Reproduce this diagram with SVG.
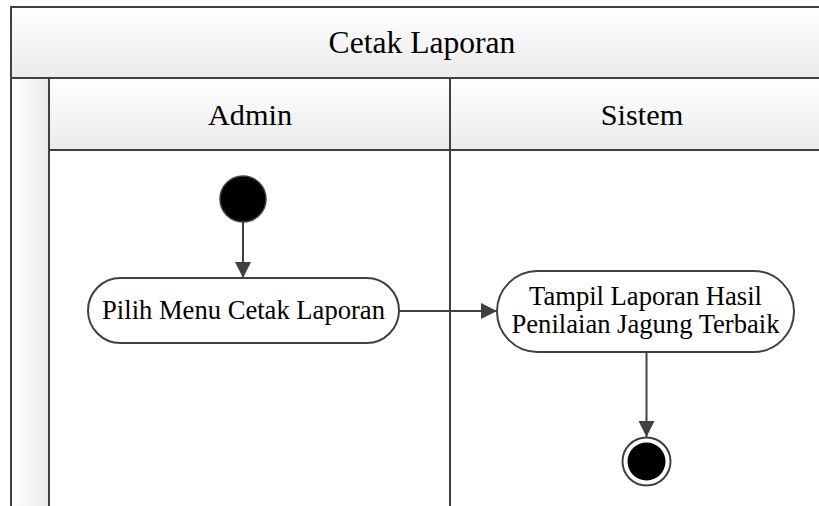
<svg xmlns="http://www.w3.org/2000/svg" width="819" height="506" viewBox="0 0 819 506">
  <defs>
    <linearGradient id="hdrFill" x1="0" y1="0" x2="0" y2="1">
      <stop offset="0" stop-color="#ffffff"/>
      <stop offset="1" stop-color="#ebebeb"/>
    </linearGradient>
    <linearGradient id="stripFill" x1="0" y1="0" x2="1" y2="0">
      <stop offset="0" stop-color="#ffffff"/>
      <stop offset="1" stop-color="#ebebeb"/>
    </linearGradient>
    <marker id="arrow" viewBox="0 0 16 16" refX="16" refY="8" markerWidth="16" markerHeight="16" markerUnits="userSpaceOnUse" orient="auto">
      <path d="M0,0 L16,8 L0,16 Z" fill="#404040"/>
    </marker>
    <style>
      .frame { stroke: #404040; stroke-width: 2; }
      text { font-family: 'Liberation Serif', 'DejaVu Serif', serif; fill: #000; text-anchor: middle; }
      .title { font-size: 31.6px; }
      .lane { font-size: 30.3px; }
      .act { fill: #ffffff; stroke: #404040; stroke-width: 2; }
      .actText { font-size: 26.6px; }
      .edge { fill: none; stroke: #404040; stroke-width: 2; marker-end: url(#arrow); }
    </style>
  </defs>

  <rect width="819" height="506" fill="#ffffff"/>

  <!-- Pool and swimlanes -->
  <g id="pool">
    <rect x="11" y="7" width="830" height="71" fill="url(#hdrFill)" class="frame"/>
    <rect x="11" y="78" width="38" height="440" fill="url(#stripFill)" class="frame"/>
    <text class="title" x="422" y="53">Cetak Laporan</text>
  </g>
  <g id="lane-admin">
    <rect x="49" y="78" width="401" height="72" fill="url(#hdrFill)" class="frame"/>
    <rect x="49" y="150" width="401" height="368" fill="#ffffff" class="frame"/>
    <text class="lane" x="250" y="125">Admin</text>
  </g>
  <g id="lane-sistem">
    <rect x="450" y="78" width="390" height="72" fill="url(#hdrFill)" class="frame"/>
    <rect x="450" y="150" width="390" height="368" fill="#ffffff" class="frame"/>
    <text class="lane" x="642" y="125">Sistem</text>
  </g>

  <!-- Connectors -->
  <g id="connectors">
    <line class="edge" x1="243" y1="222" x2="243" y2="278"/>
    <line class="edge" x1="399" y1="311" x2="497" y2="311"/>
    <line class="edge" x1="646.5" y1="352" x2="646.5" y2="437"/>
  </g>

  <!-- Nodes -->
  <g id="start">
    <circle cx="243" cy="199" r="23" fill="#000000" stroke="#404040" stroke-width="1.5"/>
  </g>
  <g id="pilih-menu">
    <rect class="act" x="88" y="278" width="311" height="65" rx="32.5" ry="32.5"/>
    <text class="actText" x="243.5" y="319">Pilih Menu Cetak Laporan</text>
  </g>
  <g id="tampil-laporan">
    <rect class="act" x="497" y="271" width="297" height="81" rx="40.5" ry="40.5"/>
    <text class="actText" x="645.5" y="305">Tampil Laporan Hasil</text>
    <text class="actText" x="645.5" y="333">Penilaian Jagung Terbaik</text>
  </g>
  <g id="end">
    <circle cx="646.5" cy="461.5" r="24" fill="#ffffff" stroke="#404040" stroke-width="2"/>
    <circle cx="646.5" cy="461.5" r="19" fill="#000000"/>
  </g>
</svg>
